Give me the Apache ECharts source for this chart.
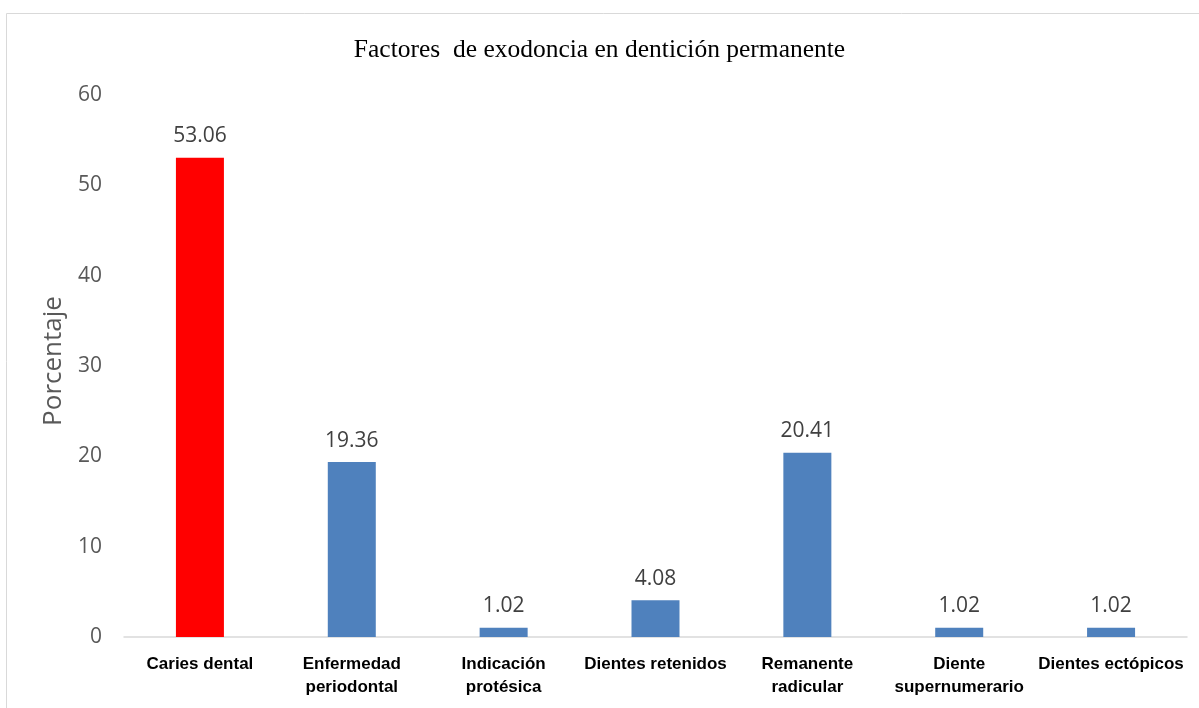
<!DOCTYPE html>
<html><head><meta charset="utf-8">
<script src="https://cdn.jsdelivr.net/npm/echarts@6/dist/echarts.min.js"></script>
<style>html,body{margin:0;padding:0;background:#fff}#c{width:1199px;height:708px}</style>
</head><body><div id="c"></div>
<script>
const categories = ['Caries dental','Enfermedad\nperiodontal','Indicación\nprotésica','Dientes retenidos','Remanente\nradicular','Diente\nsupernumerario','Dientes ectópicos'];
const values = [53.06, 19.36, 1.02, 4.08, 20.41, 1.02, 1.02];
const barColors = ['#ff0000','#4f81bd','#4f81bd','#4f81bd','#4f81bd','#4f81bd','#4f81bd'];
const chart = echarts.init(document.getElementById('c'));
chart.setOption({
  animation:false,
  graphic:[{type:'rect',left:4,top:11,shape:{width:1400,height:900},style:{fill:'none',stroke:'#d9d9d9',lineWidth:1},silent:true}],
  title:{text:'Factores  de exodoncia en dentición permanente',left:'center',top:32,textStyle:{fontFamily:'Liberation Serif',fontSize:25.5,fontWeight:'normal',color:'#000'}},
  grid:{left:124,right:12,top:95,bottom:71},
  xAxis:{type:'category',data:categories,axisTick:{show:false},axisLine:{lineStyle:{color:'#d9d9d9',width:1.5}},
    axisLabel:{interval:0,margin:16,color:'#000',fontWeight:'bold',fontFamily:'Liberation Sans Narrow, Arial Narrow, Liberation Sans',fontSize:17,lineHeight:23}},
  yAxis:{type:'value',min:0,max:60,interval:10,splitLine:{show:false},axisLine:{show:false},axisTick:{show:false},
    name:'Porcentaje',nameLocation:'middle',nameGap:54,nameTextStyle:{color:'#595959',fontSize:26,fontFamily:'Open Sans',padding:[0,0,0,10]},
    axisLabel:{color:'#595959',fontSize:21,fontFamily:'Open Sans',margin:22}},
  series:[{type:'bar',barWidth:48,data:values.map((v,i)=>({value:v,itemStyle:{color:barColors[i]}})),
    label:{show:true,position:'top',distance:11,color:'#404040',fontSize:21,fontFamily:'Open Sans',formatter:p=>p.value.toFixed(2)}}]
});
</script></body></html>
